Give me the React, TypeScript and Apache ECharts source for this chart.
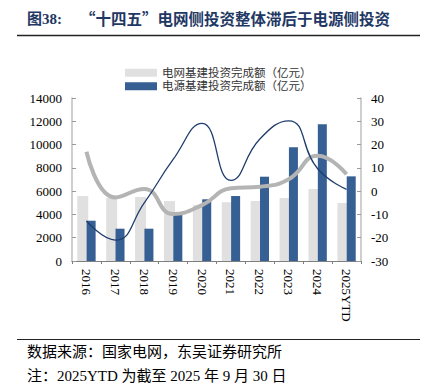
import React, { useEffect, useRef } from 'react';
import * as echarts from 'echarts';

const categories = ['2016', '2017', '2018', '2019', '2020', '2021', '2022', '2023', '2024', '2025YTD'];
const gridInvest = [5580, 5440, 5500, 5150, 4810, 5050, 5150, 5410, 6180, 4980];
const powerInvest = [3460, 2775, 2775, 3980, 5300, 5580, 7240, 9760, 11740, 7270];
const gridGrowth = [16.9, -2.7, 0.9, -9.8, -6.0, 1.2, 1.9, 5.1, 15.2, 7.3];
const powerGrowth = [-12.8, -21.0, -5.0, 13.6, 29.1, 4.6, 22.4, 30.2, 9.6, 0.8];

const titleNo = '图38:';
const titleText = '“十四五”电网侧投资整体滞后于电源侧投资';
const sourceText = '数据来源：国家电网，东吴证券研究所';
const noteText = '注：2025YTD 为截至 2025 年 9 月 30 日';
const gridName = '电网基建投资完成额（亿元）';
const powerName = '电源基建投资完成额（亿元）';

const FONT = "'Liberation Serif', 'Noto Sans CJK SC', serif";
const CJK = "'Noto Sans CJK SC', 'Liberation Serif', sans-serif";

export default function App() {
  const ref = useRef<HTMLDivElement>(null);
  useEffect(() => {
    if (!ref.current) return;
    const chart = echarts.init(ref.current, undefined, { renderer: 'svg' });
    chart.setOption({
      animation: false,
      backgroundColor: '#ffffff',
      textStyle: { fontFamily: FONT },
      legend: {
        orient: 'vertical',
        left: 120,
        top: 62,
        itemWidth: 32,
        itemHeight: 8,
        itemGap: 2,
        icon: 'rect',
        data: [gridName, powerName],
        textStyle: { fontSize: 11.5, color: '#333', fontFamily: FONT },
      },
      grid: { left: 72, right: 62, top: 98, bottom: 124, containLabel: false },
      xAxis: {
        type: 'category',
        data: categories,
        boundaryGap: true,
        axisLine: { lineStyle: { color: '#7f7f7f', width: 1.2 } },
        axisTick: { show: true, alignWithLabel: false, length: 3, lineStyle: { color: '#7f7f7f' } },
        axisLabel: { rotate: -90, margin: 8, fontSize: 13, color: '#000', fontFamily: FONT },
      },
      yAxis: [
        {
          type: 'value',
          min: 0,
          max: 14000,
          interval: 2000,
          position: 'left',
          axisLine: { show: true, lineStyle: { color: '#bfbfbf', width: 1.5 } },
          axisTick: { show: true, inside: true, length: 4, lineStyle: { color: '#999' } },
          axisLabel: {
            fontSize: 13,
            color: '#000',
            margin: 10,
            fontFamily: FONT,
            formatter: (v: number) => String(v),
          },
          splitLine: { show: false },
        },
        {
          type: 'value',
          min: -30,
          max: 40,
          interval: 10,
          position: 'right',
          axisLine: { show: true, lineStyle: { color: '#bfbfbf', width: 1.5 } },
          axisTick: { show: true, inside: true, length: 4, lineStyle: { color: '#999' } },
          axisLabel: {
            fontSize: 13,
            color: '#000',
            margin: 10,
            fontFamily: FONT,
            formatter: (v: number) => String(v),
          },
          splitLine: { show: false },
        },
      ],
      series: [
        {
          name: gridName,
          type: 'bar',
          data: gridInvest,
          barWidth: 11,
          barGap: '-15%',
          itemStyle: { color: '#e0e0e0' },
        },
        {
          name: powerName,
          type: 'bar',
          data: powerInvest,
          barWidth: 9,
          itemStyle: { color: '#365f93' },
        },
        {
          name: '电网增速',
          type: 'line',
          yAxisIndex: 1,
          data: gridGrowth,
          smooth: 0.5,
          showSymbol: false,
          symbol: 'none',
          lineStyle: { color: '#b4b4b4', width: 4 },
          z: 3,
        },
        {
          name: '电源增速',
          type: 'line',
          yAxisIndex: 1,
          data: powerGrowth,
          smooth: 0.5,
          showSymbol: false,
          symbol: 'none',
          lineStyle: { color: '#1f3d6d', width: 1.3 },
          z: 4,
        },
      ],
      graphic: [
        {
          type: 'text',
          left: 27,
          top: 11,
          style: { text: titleNo, fontSize: 15, fontWeight: 'bold', fill: '#1f3864', fontFamily: FONT },
        },
        {
          type: 'text',
          left: 80,
          top: 10,
          style: { text: titleText, fontSize: 15.5, fontWeight: 'bold', fill: '#1f3864', fontFamily: CJK },
        },
        {
          type: 'line',
          shape: { x1: 17, y1: 35.5, x2: 420, y2: 35.5 },
          style: { stroke: '#222', lineWidth: 1.5 },
        },
        {
          type: 'line',
          shape: { x1: 17, y1: 339.5, x2: 420, y2: 339.5 },
          style: { stroke: '#222', lineWidth: 1.2 },
        },
        {
          type: 'text',
          left: 27,
          top: 344,
          style: { text: sourceText, fontSize: 15, fill: '#000', fontFamily: FONT },
        },
        {
          type: 'text',
          left: 27,
          top: 368,
          style: { text: noteText, fontSize: 15, fill: '#000', fontFamily: FONT },
        },
      ],
    });
    return () => chart.dispose();
  }, []);
  return (
    <div
      ref={ref}
      style={{ position: 'fixed', left: 0, top: 0, width: 423, height: 385 }}
    />
  );
}
